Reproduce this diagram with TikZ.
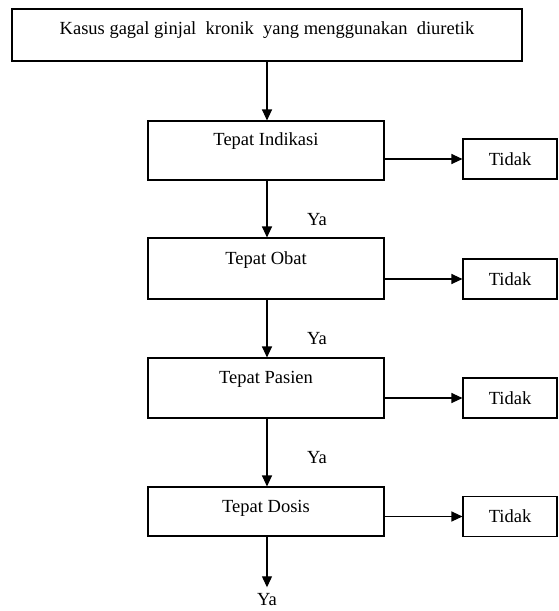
\documentclass[tikz,border=0pt]{standalone}
\usepackage{fontspec}
\setmainfont{Liberation Serif}
\usetikzlibrary{positioning,arrows.meta}

\begin{document}
\begin{tikzpicture}[x=1pt,y=-1pt,
  font=\fontsize{18.5}{22}\selectfont,
  line width=1.1pt,
  proses/.style={draw,minimum width=236pt,inner sep=0pt},
  hasil/.style={draw,minimum width=94pt,minimum height=40pt,inner sep=0pt},
  alur/.style={-{Triangle[length=11pt,width=10pt]}},
  ya/.style={inner sep=0pt}]
\useasboundingbox (0,0) rectangle (558,611);

% --- kasus ---
\node[draw,minimum width=510pt,minimum height=52pt,inner sep=0pt,text depth=14pt]
  (kasus) at (267,35) {Kasus gagal ginjal\ \ kronik\ \ yang menggunakan\ \ diuretik};

% --- tahap evaluasi ---
\node[proses,minimum height=59pt,text depth=22pt] (indikasi) at (266,150.5) {Tepat Indikasi};
\node[proses,minimum height=61pt,text depth=20pt] (obat)     at (266,268.5) {Tepat Obat};
\node[proses,minimum height=60pt,text depth=21pt] (pasien)   at (266,388)   {Tepat Pasien};
\node[proses,minimum height=49pt,text depth=11pt] (dosis)    at (266,511.5) {Tepat Dosis};

% --- hasil tidak ---
\node[hasil] (tidak1) at (510,159)   {Tidak};
\node[hasil] (tidak2) at (510,279)   {Tidak};
\node[hasil] (tidak3) at (510,398)   {Tidak};
\node[hasil] (tidak4) at (510,516.5) {Tidak};

% --- akhir ---
\node[ya] (akhir) at (267,600) {Ya};

% --- alur ya ---
\draw[alur] (kasus.south -| 267,0) -- (indikasi.north -| 267,0);
\draw[alur] (indikasi.south -| 267,0) -- (obat.north -| 267,0);
\draw[alur] (obat.south -| 267,0) -- (pasien.north -| 267,0);
\draw[alur] (pasien.south -| 267,0) -- (dosis.north -| 267,0);
\draw[alur] (dosis.south -| 267,0) -- ([yshift=6pt]akhir.north);
\node[ya] (ya1) at (317,220) {Ya};
\node[ya] (ya2) at (317,339) {Ya};
\node[ya] (ya3) at (317,458) {Ya};

% --- alur tidak ---
\foreach \a/\b in {indikasi/tidak1,obat/tidak2,pasien/tidak3,dosis/tidak4}
  \draw[alur] (\b.west -| \a.east) -- (\b.west);
\end{tikzpicture}
\end{document}
